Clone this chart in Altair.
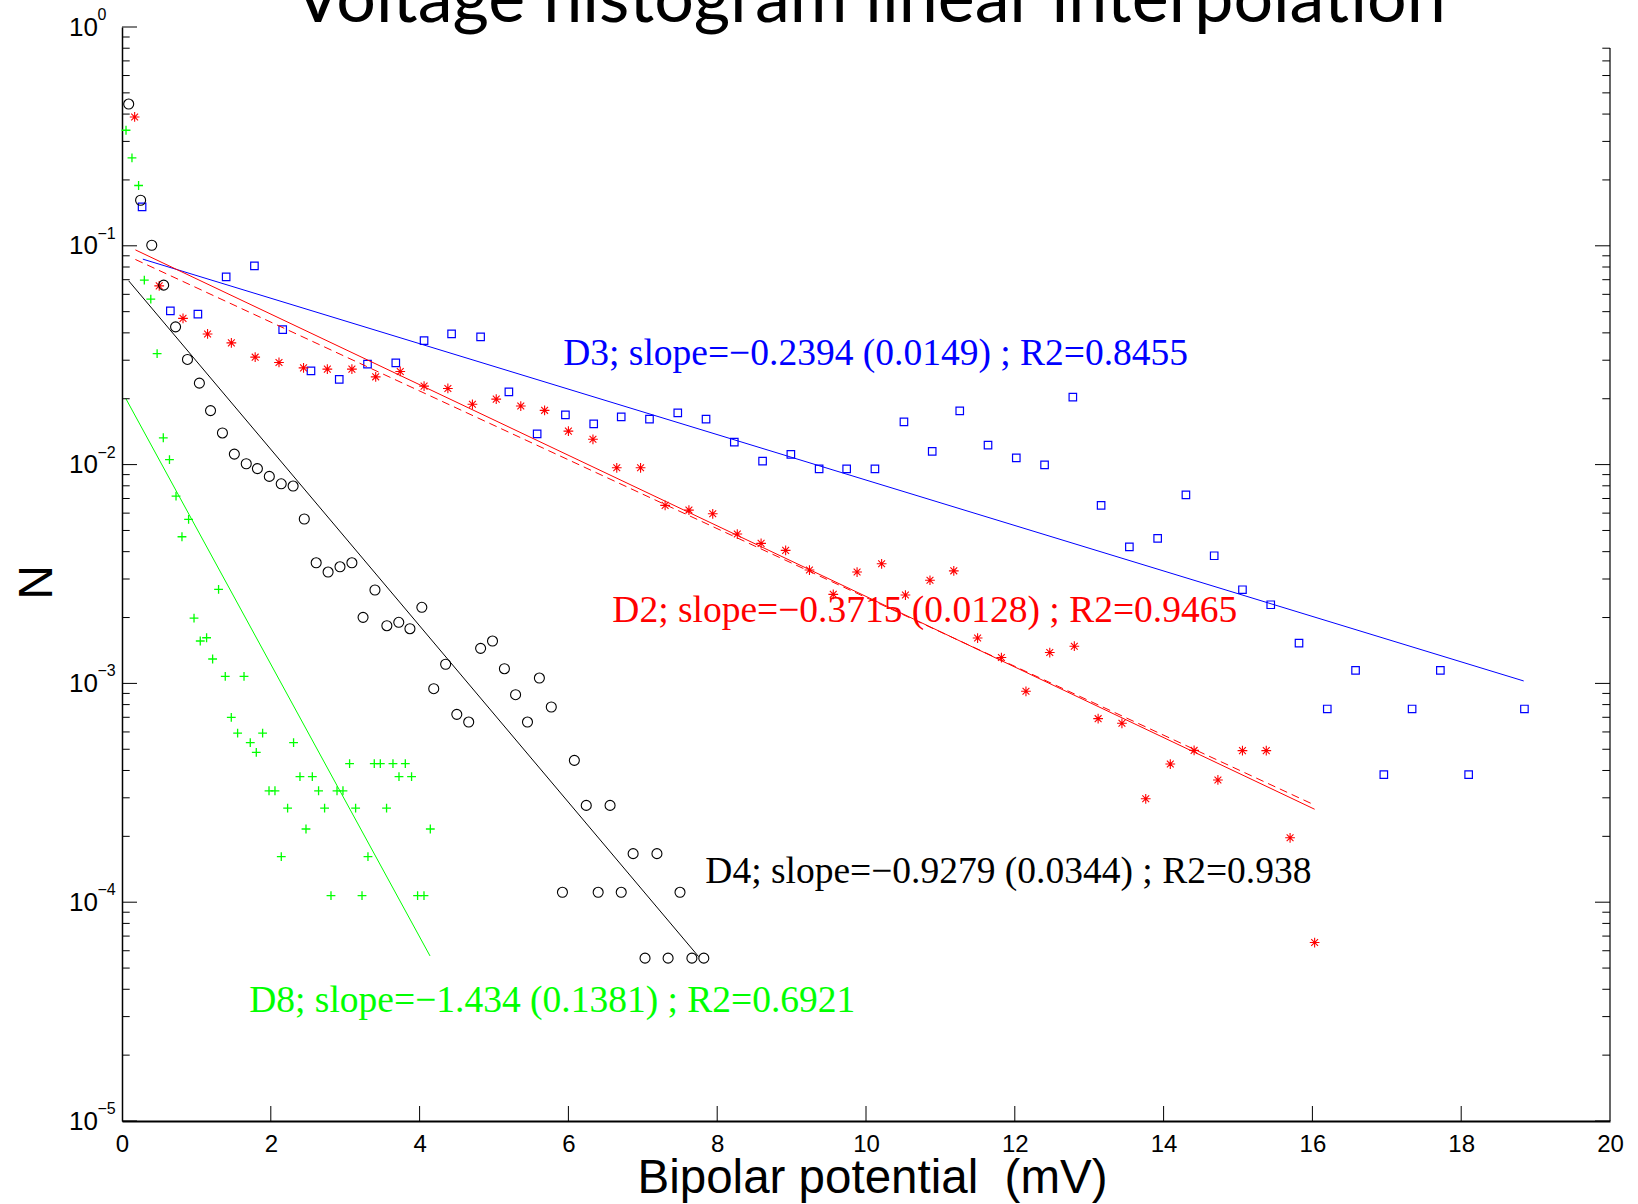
import altair as alt
import pandas as pd

# ---------------- data ----------------
# D2 (red asterisks)
d2_x = [0.17, 0.50, 0.82, 1.15, 1.47, 1.79, 2.11, 2.44, 2.76, 3.09, 3.41, 3.74, 4.06, 4.38, 4.71,
        5.03, 5.36, 5.68, 6.00, 6.33, 6.65, 6.97, 7.30, 7.62, 7.94, 8.27, 8.59, 8.92, 9.24, 9.56,
        9.88, 10.21, 10.53, 10.86, 11.18, 11.50, 11.82, 12.15, 12.47, 12.80, 13.12, 13.44, 13.76,
        14.09, 14.41, 14.73, 15.06, 15.38, 15.70, 16.03]
d2_n = [0.388, 0.0656, 0.04659, 0.03955, 0.036, 0.03098, 0.0293, 0.02768, 0.02731, 0.02731,
        0.02518, 0.02665, 0.02284, 0.02229, 0.01886, 0.01992, 0.01852, 0.0177, 0.01422, 0.01305,
        0.009669, 0.009669, 0.006512, 0.006196, 0.00596, 0.004814, 0.004365, 0.004055, 0.003296,
        0.002553, 0.003228, 0.003522, 0.002534, 0.002961, 0.003269, 0.001612, 0.001313, 0.00092,
        0.001384, 0.001479, 0.00069, 0.000657, 0.000297, 0.000428, 0.000494, 0.000362, 0.000493,
        0.000493, 0.000197, 6.54e-5]

# D3 (blue squares)
d3_x = [0.27, 0.65, 1.02, 1.40, 1.78, 2.16, 2.54, 2.92, 3.30, 3.68, 4.06, 4.43, 4.82, 5.20, 5.58,
        5.96, 6.34, 6.71, 7.09, 7.47, 7.85, 8.23, 8.61, 8.99, 9.37, 9.74, 10.12, 10.51, 10.89,
        11.26, 11.64, 12.02, 12.40, 12.78, 13.16, 13.54, 13.92, 14.30, 14.68, 15.06, 15.44, 15.82,
        16.20, 16.58, 16.96, 17.34, 17.72, 18.10, 18.85]
d3_n = [0.1506, 0.05037, 0.04869, 0.0721, 0.08094, 0.04137, 0.02683, 0.0245, 0.02877, 0.02918,
        0.03685, 0.03955, 0.03836, 0.02149, 0.01381, 0.01689, 0.01534, 0.01654, 0.01614, 0.01724,
        0.01614, 0.01267, 0.01038, 0.01113, 0.009568, 0.009568, 0.009568, 0.01569, 0.0115, 0.01761,
        0.01227, 0.01074, 0.009979, 0.02033, 0.006512, 0.004211, 0.004601, 0.007278, 0.003832,
        0.00268, 0.002288, 0.001529, 0.000764, 0.001147, 0.000383, 0.000764, 0.001147, 0.000383,
        0.000764]

# D4 (black circles)
d4_x = [0.09, 0.25, 0.40, 0.56, 0.72, 0.88, 1.04, 1.19, 1.35, 1.51, 1.67, 1.82, 1.98, 2.14, 2.30,
        2.45, 2.61, 2.77, 2.93, 3.09, 3.24, 3.40, 3.56, 3.72, 3.87, 4.03, 4.19, 4.35, 4.50, 4.66,
        4.82, 4.98, 5.14, 5.29, 5.45, 5.61, 5.77, 5.92, 6.08, 6.24, 6.40, 6.56, 6.71, 6.87, 7.03,
        7.19, 7.34, 7.50, 7.66, 7.82]
d4_n = [0.4446, 0.1615, 0.1006, 0.0661, 0.04262, 0.03024, 0.02357, 0.01765, 0.01395, 0.01117,
        0.01009, 0.00959, 0.00883, 0.00817, 0.00798, 0.00564, 0.003558, 0.003228, 0.003412,
        0.003558, 0.002004, 0.002672, 0.001835, 0.001902, 0.001778, 0.002227, 0.000946, 0.001223,
        0.000722, 0.000666, 0.001446, 0.001562, 0.001167, 0.000888, 0.000666, 0.001058, 0.00078,
        0.000111, 0.000445, 0.000277, 0.000111, 0.000277, 0.000111, 0.0001667, 5.55e-5, 0.0001667,
        5.55e-5, 0.000111, 5.55e-5, 5.55e-5]

# D8 (green plus)
d8_x = [0.054, 0.134, 0.223, 0.300, 0.387, 0.472, 0.555, 0.638, 0.726, 0.806, 0.895, 0.968, 1.052,
        1.137, 1.218, 1.298, 1.388, 1.469, 1.554, 1.640, 1.724, 1.805, 1.890, 1.976, 2.056, 2.141,
        2.226, 2.306, 2.392, 2.473, 2.558, 2.642, 2.723, 2.809, 2.890, 2.970, 3.059, 3.140, 3.226,
        3.306, 3.391, 3.472, 3.556, 3.642, 3.723, 3.808, 3.892, 3.973, 4.059, 4.144]
d8_n = [0.3374, 0.2521, 0.1886, 0.06966, 0.05702, 0.03214, 0.01326, 0.01054, 0.00718, 0.00468,
        0.005618, 0.001989, 0.001562, 0.001617, 0.001293, 0.002691, 0.001077, 0.0007, 0.000593,
        0.001077, 0.000536, 0.000484, 0.000593, 0.000323, 0.000323, 0.0001615, 0.000269, 0.000536,
        0.000375, 0.000216, 0.000375, 0.000323, 0.000269, 0.0001072, 0.000323, 0.000323, 0.00043,
        0.000269, 0.0001072, 0.0001615, 0.00043, 0.00043, 0.000269, 0.00043, 0.000375, 0.00043,
        0.000375, 0.0001072, 0.0001072, 0.000216]

# fitted lines (start / end)
fit_series = ["D3", "D3", "D2", "D2", "D4", "D4", "D8", "D8"]
fit_x = [0.28, 18.84, 0.18, 16.03, 0.09, 7.75, 0.05, 4.14]
fit_n = [0.0869, 0.001026, 0.0958, 0.000266, 0.06915, 5.64e-5, 0.02007, 5.68e-5]
fit_color = ["#0000ff", "#0000ff", "#ff0000", "#ff0000", "#000000", "#000000", "#00ff00", "#00ff00"]
dash_x = [0.18, 16.03]
dash_n = [0.0866, 0.000278]

# annotations
ann_text = ["D3; slope=\u22120.2394 (0.0149) ; R2=0.8455",
            "D2; slope=\u22120.3715 (0.0128) ; R2=0.9465",
            "D4; slope=\u22120.9279 (0.0344) ; R2=0.938",
            "D8; slope=\u22121.434 (0.1381) ; R2=0.6921"]
ann_x = [5.93, 6.59, 7.84, 1.71]
ann_n = [0.02848, 0.001914, 0.0001225, 3.163e-5]
ann_color = ["#0000ff", "#ff0000", "#000000", "#00ff00"]

title_text = "Voltage histogram linear interpolation"
x_ticks = [0, 2, 4, 6, 8, 10, 12, 14, 16, 18, 20]
y_major = [1, 0.1, 0.01, 0.001, 1e-4, 1e-5]
y_exp = ["0", "\u22121", "\u22122", "\u22123", "\u22124", "\u22125"]
y_minor = [k * 10.0 ** e for e in range(-5, 0) for k in range(2, 10)]

# ---------------- chart ----------------
W, H = 1488, 1094
xscale = alt.Scale(domain=[0, 20], nice=False, zero=False)
yscale = alt.Scale(type="log", domain=[1e-5, 1], nice=False)

SANS = "Liberation Sans"

x_axis = alt.Axis(values=x_ticks, ticks=False, grid=False, domain=True, domainColor="black",
                  domainWidth=2, labelFont=SANS, labelFontSize=24, labelColor="black",
                  labelPadding=11, labelFlush=False, title="Bipolar potential\u00a0 (mV)",
                  titleFont=SANS, titleFontSize=47.5, titleFontWeight="normal", titleColor="black",
                  titleX=750, titleY=71, titleBaseline="alphabetic", titleAlign="center")
y_axis = alt.Axis(values=y_major, labelExpr="'10'", ticks=False, grid=False, domain=True,
                  domainColor="black", domainWidth=1.5, labelFont=SANS, labelFontSize=26,
                  labelColor="black", labelPadding=24.5, labelBaseline="middle",
                  labelAlign="right", labelOverlap=False, title="N", titleFont=SANS,
                  titleFontSize=48, titleFontWeight="normal", titleColor="black", titleX=-71,
                  titleY=555, titleAngle=270, titleBaseline="alphabetic", titleAlign="center")


def X(field):
    return alt.X(f"{field}:Q", scale=xscale, axis=x_axis)


def Y(field):
    return alt.Y(f"{field}:Q", scale=yscale, axis=y_axis)


STAR = "M-1,0L1,0M0,-1L0,1M-0.7,-0.7L0.7,0.7M-0.7,0.7L0.7,-0.7"
PLUS = "M-1,0L1,0M0,-1L0,1"


def pts(xs, ns, **kw):
    return alt.Chart(pd.DataFrame({"x": xs, "n": ns})).mark_point(
        filled=False, opacity=1, **kw).encode(x=X("x"), y=Y("n"))


d2 = pts(d2_x, d2_n, shape=STAR, color="#ff0000", size=95, strokeWidth=1.1)
d3 = pts(d3_x, d3_n, shape="square", color="#0000ff", size=56, strokeWidth=1.2)
d4 = pts(d4_x, d4_n, shape="circle", color="#000000", size=100, strokeWidth=1.1)
d8 = pts(d8_x, d8_n, shape=PLUS, color="#00ff00", size=78, strokeWidth=1.3)

fit_df = pd.DataFrame({"x": fit_x, "n": fit_n, "s": fit_series, "c": fit_color})
fits = alt.Chart(fit_df).mark_line(strokeWidth=1).encode(
    x=X("x"), y=Y("n"), detail="s:N", color=alt.Color("c:N", scale=None))
dashed = alt.Chart(pd.DataFrame({"x": dash_x, "n": dash_n})).mark_line(
    strokeWidth=1, color="#ff0000", strokeDash=[8, 5]).encode(x=X("x"), y=Y("n"))

ann_df = pd.DataFrame({"x": ann_x, "n": ann_n, "t": ann_text, "c": ann_color})
ann = alt.Chart(ann_df).mark_text(font="Liberation Serif", fontSize=37.5, align="left",
                                  baseline="alphabetic").encode(
    x=X("x"), y=Y("n"), text="t:N", color=alt.Color("c:N", scale=None))

exp_df = pd.DataFrame({"v": y_major, "e": y_exp})
exps = alt.Chart(exp_df).mark_text(font=SANS, fontSize=16, align="left", baseline="middle",
                                   dy=-12, color="black").encode(
    x=alt.value(-24.5), y=Y("v"), text="e:N")

ymaj_df = pd.DataFrame({"v": y_major})
ymin_df = pd.DataFrame({"v": y_minor})
ymaj_r = pd.DataFrame({"v": [v for v in y_major if v <= 0.8]})
ymin_r = pd.DataFrame({"v": [v for v in y_minor if v <= 0.8]})


def yrule(df, x1, x2):
    return alt.Chart(df).mark_rule(color="black", strokeWidth=1).encode(
        y=Y("v"), x=alt.value(x1), x2=alt.value(x2))


tick_layers = [
    yrule(ymaj_df, 0, 15), yrule(ymin_df, 0, 7.7),
    yrule(ymaj_r, W - 15, W), yrule(ymin_r, W - 7.7, W),
    alt.Chart(pd.DataFrame({"v": x_ticks[1:-1]})).mark_rule(color="black", strokeWidth=1).encode(
        x=X("v"), y=alt.value(H - 15), y2=alt.value(H)),
    alt.Chart(pd.DataFrame({"v": [1]})).mark_rule(color="black", strokeWidth=1.2).encode(
        x=alt.value(W), y=alt.value(21), y2=alt.value(H)),
]

title = alt.Chart(pd.DataFrame({"t": [title_text]})).mark_text(
    font="Lato", fontSize=70, align="center", baseline="alphabetic", color="black").encode(
    x=alt.value(748), y=alt.value(-5), text="t:N")

chart = alt.layer(
    d3, fits, dashed, d2, d4, d8, ann, exps, *tick_layers, title
).properties(
    width=W, height=H,
    padding={"left": 122, "top": 27, "right": 28, "bottom": 83},
    autosize=alt.AutoSizeParams(type="none"),
).configure(background="white").configure_view(stroke=None)

chart.save("out.html", embed_options={"renderer": "svg", "actions": False})
